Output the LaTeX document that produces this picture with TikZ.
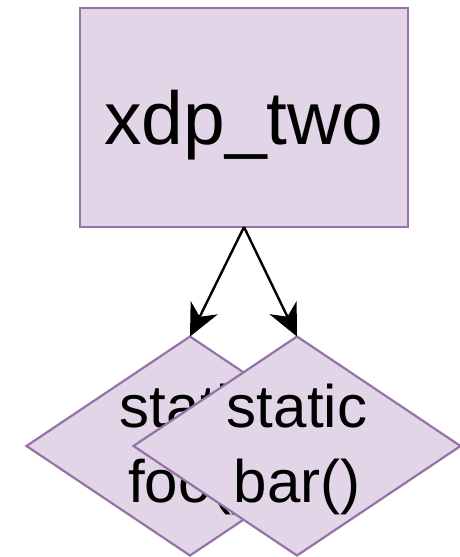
\documentclass[tikz,border=0pt]{standalone}
\usepackage{fontspec}
\setmainfont{Liberation Sans}
\usetikzlibrary{shapes.geometric,arrows.meta}
\definecolor{lilacfill}{HTML}{E1D5E7}
\definecolor{lilacline}{HTML}{9673A6}
\begin{document}
\begin{tikzpicture}[x=1pt,y=-1pt,
  box/.style={draw=lilacline,fill=lilacfill,line width=2.2pt,inner sep=0pt,outer sep=0pt},
  decision/.style={box,diamond,minimum width=327pt,minimum height=219pt},
  bigtext/.style={anchor=base,inner sep=0pt,font=\fontsize{75}{90}\selectfont},
  midtext/.style={anchor=base,inner sep=0pt,align=center,font=\fontsize{60}{75}\selectfont},
  flow/.style={line width=2.4pt,black,-{Stealth[length=32pt,width=30pt,inset=10pt]}}
]
\useasboundingbox (0,0) rectangle (459,557);
% module box
\node[box,minimum width=328pt,minimum height=219pt] (two) at (244,117.5) {};
\node[bigtext] (twotext) at (244,144) {xdp\_two};
% the two functions, bar() drawn over foo()
\node[decision] (foo) at (190,446) {};
\node[midtext] (footext) at (190,502) {static\\foo()};
\node[decision] (bar) at (297,446) {};
\node[midtext] (bartext) at (297,502) {static\\bar()};
% calls
\draw[flow] (two.south) -- (foo.north);
\draw[flow] (two.south) -- (bar.north);
\end{tikzpicture}
\end{document}
